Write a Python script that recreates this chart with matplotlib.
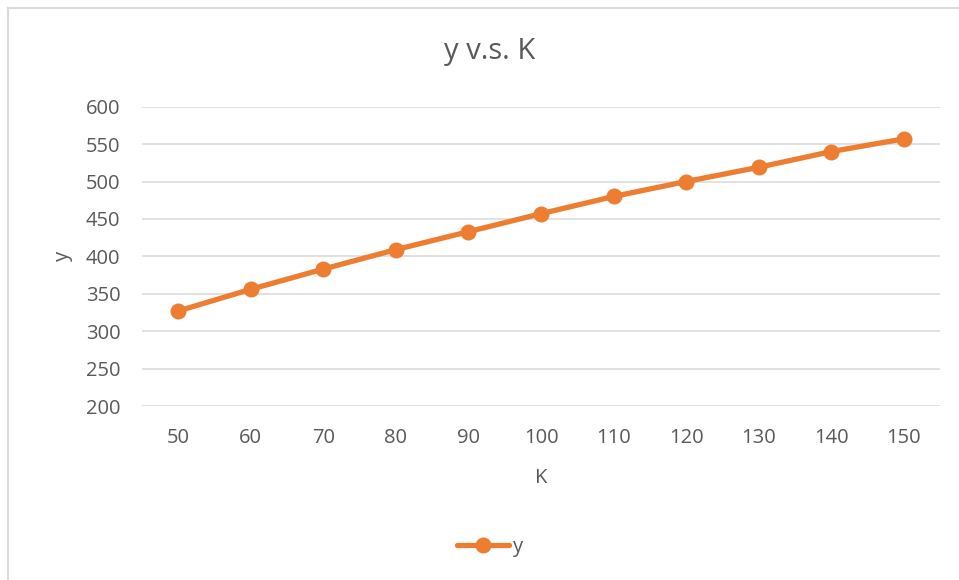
import numpy as np
import matplotlib.pyplot as plt
from matplotlib.lines import Line2D

K = [50, 60, 70, 80, 90, 100, 110, 120, 130, 140, 150]
y = [327, 356, 383, 409, 433, 457, 480, 500, 519, 540, 557]

orange = '#ED7D31'
grey_txt = '#595959'
grid_c = '#D9D9D9'

plt.rcParams['font.family'] = ['Open Sans', 'DejaVu Sans']

W, H = 959, 580
fig = plt.figure(figsize=(W / 100, H / 100), dpi=100)
ax = fig.add_axes([142 / W, 1 - 406 / H, (940 - 142) / W, (406 - 106.7) / H])

pos = np.arange(len(K))
ax.plot(pos, y, color=orange, lw=3.8, marker='o', ms=10.5,
        solid_capstyle='round', label='y', zorder=3)

ax.set_xlim(-0.5, len(K) - 0.5)
ax.set_ylim(200, 600)
ax.set_yticks(np.arange(200, 601, 50))
ax.set_xticks(pos)
ax.set_xticklabels([str(k) for k in K])
ax.tick_params(length=0, labelsize=14.5, labelcolor=grey_txt)
ax.tick_params(axis='y', pad=15.5)
ax.tick_params(axis='x', pad=16)
ax.grid(axis='y', color=grid_c, lw=1.1)
ax.set_axisbelow(True)
for s in ax.spines.values():
    s.set_visible(False)

ax.set_xlabel('K', fontsize=14.5, color=grey_txt, labelpad=14)
ax.set_ylabel('y', fontsize=14.5, color=grey_txt, labelpad=9)

fig.text(490 / W, 1 - 52 / H, 'y v.s. K', fontsize=21, color=grey_txt,
         ha='center', va='center')

# legend at the bottom
handle = Line2D([], [], color=orange, lw=3.8, marker='o', ms=10.5,
                solid_capstyle='round')
fig.legend([handle], ['y'], loc='center', bbox_to_anchor=(490 / W, 1 - 547 / H),
           frameon=False, fontsize=14.5, labelcolor=grey_txt,
           handlelength=2.6, handletextpad=0.2)

# chart area border (only top and left visible in the crop)
fig.add_artist(Line2D([7.5 / W, 1], [1 - 8 / H, 1 - 8 / H], color=grid_c, lw=1.5,
                      transform=fig.transFigure))
fig.add_artist(Line2D([7.5 / W, 7.5 / W], [0, 1 - 8 / H], color=grid_c, lw=1.5,
                      transform=fig.transFigure))

fig.savefig('out.png', dpi=100)
